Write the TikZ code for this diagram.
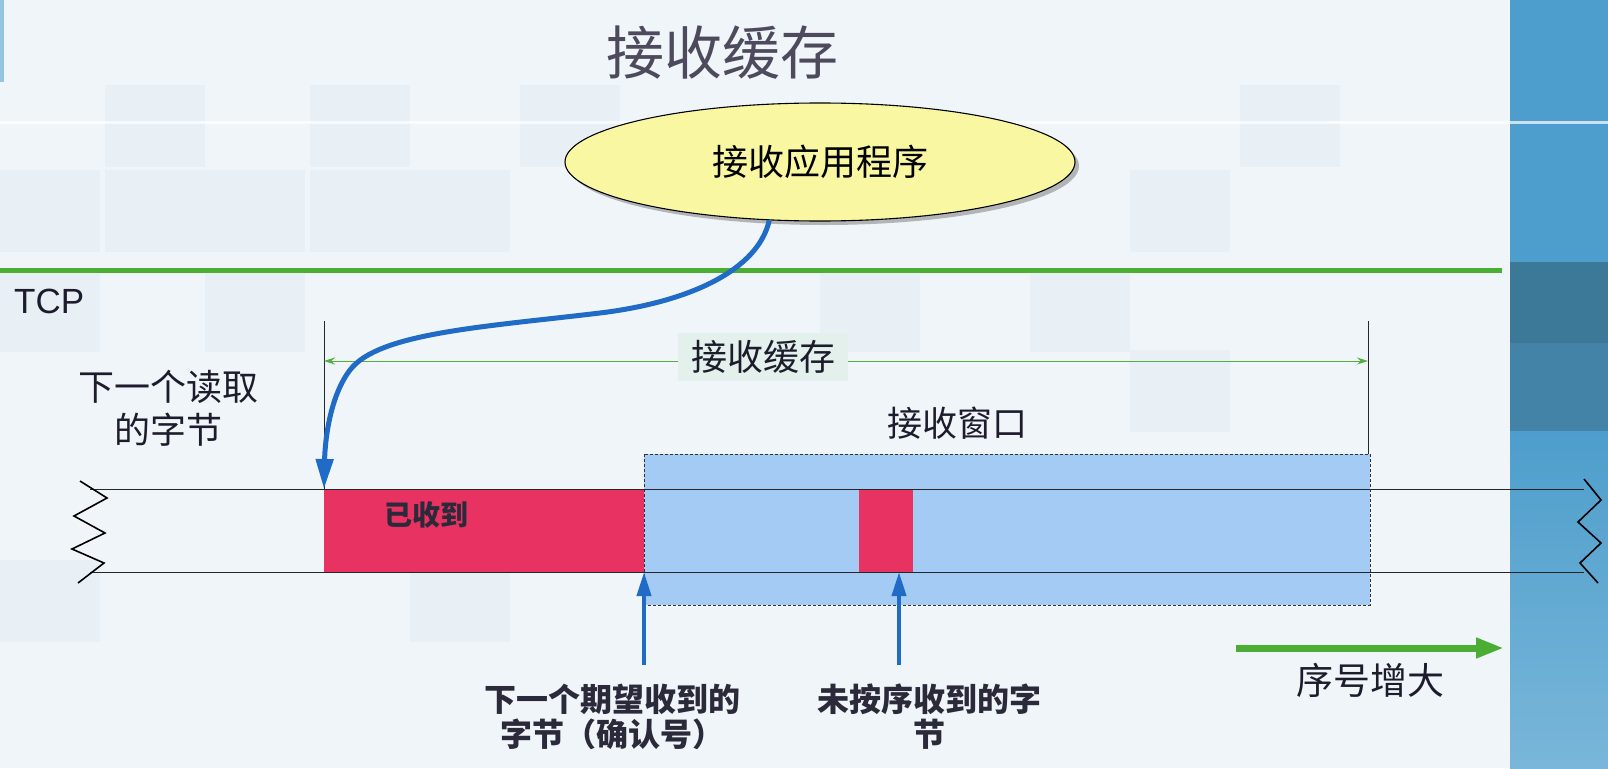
\documentclass[tikz,border=0pt]{standalone}
\usepackage{fontspec}
\setmainfont{Noto Sans CJK SC}
\newfontfamily\latinsans{Liberation Sans}
\usetikzlibrary{arrows.meta,shadows,shapes.geometric}

\definecolor{slidebg}{HTML}{EFF5F9}
\definecolor{tilecol}{HTML}{E9F0F5}
\definecolor{stripe}{HTML}{4D9ECC}
\definecolor{stripedark}{HTML}{3C7898}
\definecolor{stripemid}{HTML}{4383A7}
\definecolor{titlecol}{HTML}{4E4A5E}
\definecolor{textcol}{HTML}{1C1C2C}
\definecolor{boldcol}{HTML}{2A2A3A}
\definecolor{appfill}{HTML}{FAF7A2}
\definecolor{tcpgreen}{HTML}{4AAE35}
\definecolor{bufgreen}{HTML}{52B043}
\definecolor{labelbg}{HTML}{E3F0EB}
\definecolor{winblue}{HTML}{A3CBF4}
\definecolor{recvred}{HTML}{E83262}
\definecolor{arrowblue}{HTML}{1F6BC6}

\tikzset{
  titletext/.style={font=\fontsize{58}{60}\selectfont, text=titlecol, inner sep=0pt},
  appnode/.style={ellipse, draw=black, line width=1.1pt, fill=appfill,
    minimum width=510pt, minimum height=118pt, inner sep=0pt,
    drop shadow={shadow xshift=4pt, shadow yshift=-4pt, opacity=0.55},
    font=\fontsize{36}{40}\selectfont, text=black},
  plaintext/.style={font=\fontsize{36}{43}\selectfont, text=textcol, align=center, inner sep=0pt},
  boldtext/.style={font=\bfseries\fontsize{32}{35}\selectfont, text=boldcol, align=center, inner sep=0pt},
  tcpline/.style={draw=tcpgreen, line width=5pt},
  thinline/.style={draw=black!85, line width=0.9pt},
  bufarrow/.style={draw=bufgreen, line width=1pt, {Stealth[length=11pt,width=7pt]}-{Stealth[length=11pt,width=7pt]}},
  buflabel/.style={fill=labelbg, font=\fontsize{36}{40}\selectfont, text=textcol,
    minimum width=170pt, minimum height=48pt, inner sep=0pt},
  windowbox/.style={draw=black!80, line width=0.9pt, dash pattern=on 3pt off 2pt},
  recvbox/.style={fill=recvred, draw=none},
  readcurve/.style={draw=arrowblue, line width=5pt, -{Triangle[length=30pt,width=17pt]}},
  uparrow/.style={draw=arrowblue, line width=4pt, -{Triangle[length=24pt,width=14pt]}},
  seqarrow/.style={draw=tcpgreen, line width=7pt, -{Triangle[length=28pt,width=19pt]}},
  zigzag/.style={draw=black, line width=1.6pt, line join=miter}
}

\begin{document}
\begin{tikzpicture}[x=1pt,y=-1pt]
\useasboundingbox (0,0) rectangle (1608,768);

% slide background with its faint tiles
\fill[slidebg] (0,0) rectangle (1608,768);
\foreach \tx/\ty in {105/85, 310/85, 520/85, 105/170, 205/170, 310/170, 410/170, 0/170,
                      1130/170, 1240/85, 0/270, 205/270, 820/270, 1030/270, 1130/350, 0/560, 410/560}
  \fill[tilecol] (\tx,\ty) rectangle ++(100,82);
\fill[white, opacity=0.7] (0,121) rectangle (1608,124);
\fill[stripe!60] (0,0) rectangle (4,82);

% right-hand decorative stripe
\fill[stripe] (1510,0) rectangle (1608,768);
\shade[top color=stripe, bottom color=stripe!75!white] (1510,431) rectangle (1608,768);
\fill[stripedark] (1510,262) rectangle (1608,343);
\fill[stripemid] (1510,343) rectangle (1608,431);
\fill[white, opacity=0.7] (1510,121) rectangle (1608,124);

% title and application
\node[titletext] (title) at (722,53) {接收缓存};
\node[appnode] (app) at (820,162) {接收应用程序};

% TCP boundary
\coordinate (tcpL) at (0,270);
\coordinate (tcpR) at (1502,270);
\draw[tcpline] (tcpL) -- (tcpR);
\node[font=\latinsans\fontsize{35}{40}\selectfont, text=textcol, anchor=west, inner sep=0pt] (tcp) at (14,301) {TCP};

% receive window and received data
\fill[winblue] (644,454) rectangle (1370,605);
\fill[recvbox] (324,489) rectangle (644,572);
\fill[recvbox] (859,489) rectangle (913,572);
\draw[windowbox] (644,454) rectangle (1370,605);

% byte stream
\coordinate (topL) at (90,489);   \coordinate (topR) at (1584,489);
\coordinate (botL) at (90,572);   \coordinate (botR) at (1584,572);
\draw[thinline] (topL) -- (topR);
\draw[thinline] (botL) -- (botR);
\draw[zigzag] (80,481) -- (107,498) -- (74,516) -- (105,533) -- (72,549) -- (104,563) -- (78,583);
\draw[zigzag] (1584,479) -- (1601,500) -- (1578,522) -- (1601,543) -- (1580,563) -- (1598,583);

\node[font=\bfseries\fontsize{28}{32}\selectfont, text=boldcol, inner sep=0pt] (recvd) at (426,515) {已收到};

% buffer extent
\coordinate (bufTopL) at (324,321);
\coordinate (readpt) at (324,489);
\coordinate (bufTopR) at (1368,321);
\coordinate (winTR) at (1368,454);
\draw[thinline] (bufTopL) -- (readpt);
\draw[thinline] (bufTopR) -- (winTR);
\coordinate (bufArrL) at (324,361);
\coordinate (bufArrR) at (1368,361);
\draw[bufarrow] (bufArrL) -- (bufArrR);
\node[buflabel] (buflab) at (763,357) {接收缓存};

\node[plaintext] (readlab) at (168,408) {下一个读取\\的字节};
\node[font=\fontsize{35}{40}\selectfont, text=textcol, inner sep=0pt] (winlab) at (957,423) {接收窗口};

% application reads the next byte
\coordinate (bendA) at (600,313);
\coordinate (bendB) at (350,370);
\draw[readcurve] (app.-131) .. controls (758,270) and (690,302) .. (bendA)
  .. controls (483,327) and (378,333) .. (bendB)
  .. controls (330,396) and (325,440) .. (readpt);

% pointers into the stream
\coordinate (ackpt) at (644,572);
\coordinate (ackfoot) at (644,665);
\coordinate (oopt) at (899,572);
\coordinate (oofoot) at (899,665);
\draw[uparrow] (ackfoot) -- (ackpt);
\draw[uparrow] (oofoot) -- (oopt);

\node[boldtext] (acklab) at (612,717) {下一个期望收到的\\字节（确认号）};
\node[boldtext] (oolab) at (929,717) {未按序收到的字\\节};

% direction of increasing sequence numbers
\coordinate (seqS) at (1236,648);
\coordinate (seqE) at (1504,648);
\draw[seqarrow] (seqS) -- (seqE);
\node[font=\fontsize{37}{40}\selectfont, text=textcol, inner sep=0pt] (seqlab) at (1370,680) {序号增大};
\end{tikzpicture}
\end{document}
